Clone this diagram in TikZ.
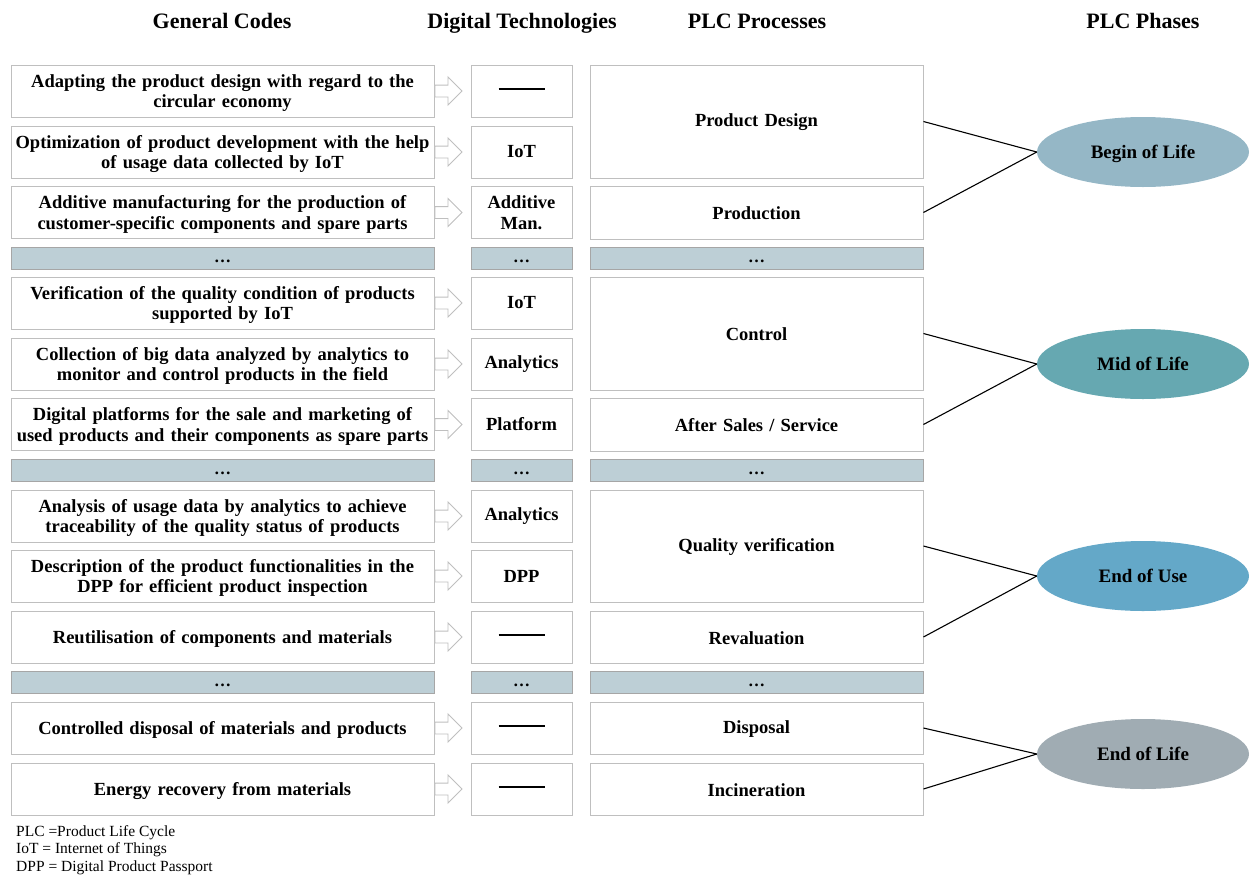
\documentclass[tikz,border=0pt]{standalone}
\usepackage{fontspec}
\setmainfont{Liberation Serif}
\usetikzlibrary{shapes.geometric,shapes.arrows}
\definecolor{boxline}{HTML}{BFBFBF}
\definecolor{dotfill}{HTML}{BDCFD6}
\definecolor{dotline}{HTML}{A6A6A6}
\definecolor{bol}{HTML}{95B7C6}
\definecolor{mol}{HTML}{66A8B1}
\definecolor{eou}{HTML}{64A8C8}
\definecolor{eol}{HTML}{A0ACB3}
\tikzset{
  base/.style={draw=boxline, line width=0.9pt, fill=white, inner sep=0pt, align=center,
    font=\fontsize{18.5}{20.5}\selectfont\bfseries},
  codebox/.style={base, minimum width=423pt, minimum height=52pt, text width=423pt,
    execute at begin node={\rule{0pt}{17pt}}},
  techbox/.style={base, minimum width=101pt, minimum height=52pt, text width=101pt},
  procbox/.style={base, minimum width=333pt, text width=333pt,
    execute at begin node={\rule{0pt}{15pt}}},
  dotbox/.style={draw=dotline, line width=0.9pt, fill=dotfill, inner sep=0pt, minimum height=22pt,
    text height=8pt, text depth=0pt, font=\fontsize{17}{18}\selectfont\bfseries},
  phase/.style={ellipse, draw=none, minimum width=212pt, minimum height=70pt,
    text height=13pt, text depth=0pt, font=\fontsize{19}{22}\selectfont\bfseries},
  hdr/.style={font=\fontsize{22}{26}\selectfont\bfseries, anchor=base},
  arr/.style={single arrow, draw=boxline, fill=white, line width=0.9pt, inner sep=5.5pt,
    single arrow head extend=8pt, minimum height=27pt, anchor=tail},
  conn/.style={draw=black, line width=1.1pt}
}
\newcommand{\emdashline}{\rule[4.5pt]{46pt}{2.4pt}}
\begin{document}
\begin{tikzpicture}[x=1pt,y=-1pt]
\useasboundingbox (0,0) rectangle (1250,876);
% headers
\node[hdr] (h1) at (222,28) {General Codes};
\node[hdr] (h2) at (522,28) {Digital Technologies};
\node[hdr] (h3) at (757,28) {PLC Processes};
\node[hdr] (h4) at (1143,28) {PLC Phases};
% general codes
\node[codebox] (c1) at (222.5,91) {Adapting the product design with regard to the\\circular economy};
\node[codebox] (c2) at (222.5,152) {Optimization of product development with the help\\of usage data collected by IoT};
\node[codebox] (c3) at (222.5,212.5) {Additive manufacturing for the production of\\customer-specific components and spare parts};
\node[dotbox, minimum width=423pt] (d1) at (222.5,258) {\dots};
\node[codebox] (c4) at (222.5,303) {Verification of the quality condition of products\\supported by IoT};
\node[codebox] (c5) at (222.5,364) {Collection of big data analyzed by analytics to\\monitor and control products in the field};
\node[codebox] (c6) at (222.5,424.5) {Digital platforms for the sale and marketing of\\used products and their components as spare parts};
\node[dotbox, minimum width=423pt] (d2) at (222.5,470) {\dots};
\node[codebox] (c7) at (222.5,516) {Analysis of usage data by analytics to achieve\\traceability of the quality status of products};
\node[codebox] (c8) at (222.5,576) {Description of the product functionalities in the\\DPP for efficient product inspection};
\node[codebox] (c9) at (222.5,637) {Reutilisation of components and materials};
\node[dotbox, minimum width=423pt] (d3) at (222.5,682) {\dots};
\node[codebox] (c10) at (222.5,728) {Controlled disposal of materials and products};
\node[codebox] (c11) at (222.5,789) {Energy recovery from materials};
% arrows
\foreach \i in {1,...,11} {\node[arr] (a\i) at (c\i.east) {};}
% technologies
\node[techbox] (t1) at (521.5,91) {\emdashline};
\node[techbox] (t2) at (521.5,152) {IoT};
\node[techbox] (t3) at (521.5,212.5) {Additive\\Man.};
\node[dotbox, minimum width=101pt] (e1) at (521.5,258) {\dots};
\node[techbox] (t4) at (521.5,303) {IoT};
\node[techbox] (t5) at (521.5,364) {Analytics};
\node[techbox] (t6) at (521.5,424.5) {Platform};
\node[dotbox, minimum width=101pt] (e2) at (521.5,470) {\dots};
\node[techbox] (t7) at (521.5,516) {Analytics};
\node[techbox] (t8) at (521.5,576) {DPP};
\node[techbox] (t9) at (521.5,637) {\emdashline};
\node[dotbox, minimum width=101pt] (e3) at (521.5,682) {\dots};
\node[techbox] (t10) at (521.5,728) {\emdashline};
\node[techbox] (t11) at (521.5,789) {\emdashline};
% processes
\node[procbox, minimum height=113pt] (p1) at (756.5,121.5) {Product Design};
\node[procbox, minimum height=53pt] (p2) at (756.5,212.5) {Production};
\node[dotbox, minimum width=333pt] (f1) at (756.5,258) {\dots};
\node[procbox, minimum height=113pt] (p3) at (756.5,333.5) {Control};
\node[procbox, minimum height=53pt] (p4) at (756.5,424.5) {After Sales / Service};
\node[dotbox, minimum width=333pt] (f2) at (756.5,470) {\dots};
\node[procbox, minimum height=112pt] (p5) at (756.5,546) {Quality verification};
\node[procbox, minimum height=52pt] (p6) at (756.5,637) {Revaluation};
\node[dotbox, minimum width=333pt] (f3) at (756.5,682) {\dots};
\node[procbox, minimum height=52pt] (p7) at (756.5,728) {Disposal};
\node[procbox, minimum height=52pt] (p8) at (756.5,789) {Incineration};
% phases
\node[phase, fill=bol] (ph1) at (1143,152) {Begin of Life};
\node[phase, fill=mol] (ph2) at (1143,364) {Mid of Life};
\node[phase, fill=eou] (ph3) at (1143,576) {End of Use};
\node[phase, fill=eol] (ph4) at (1143,754) {End of Life};
% connectors
\draw[conn] (p1.east) -- (ph1.west);
\draw[conn] (p2.east) -- (ph1.west);
\draw[conn] (p3.east) -- (ph2.west);
\draw[conn] (p4.east) -- (ph2.west);
\draw[conn] (p5.east) -- (ph3.west);
\draw[conn] (p6.east) -- (ph3.west);
\draw[conn] (p7.east) -- (ph4.west);
\draw[conn] (p8.east) -- (ph4.west);
% footnote
\node[anchor=north west, align=left, inner sep=0pt, font=\fontsize{15.5}{17.5}\selectfont] (fn) at (16,825)
  {PLC =Product Life Cycle\\IoT = Internet of Things\\DPP = Digital Product Passport};
\end{tikzpicture}
\end{document}
